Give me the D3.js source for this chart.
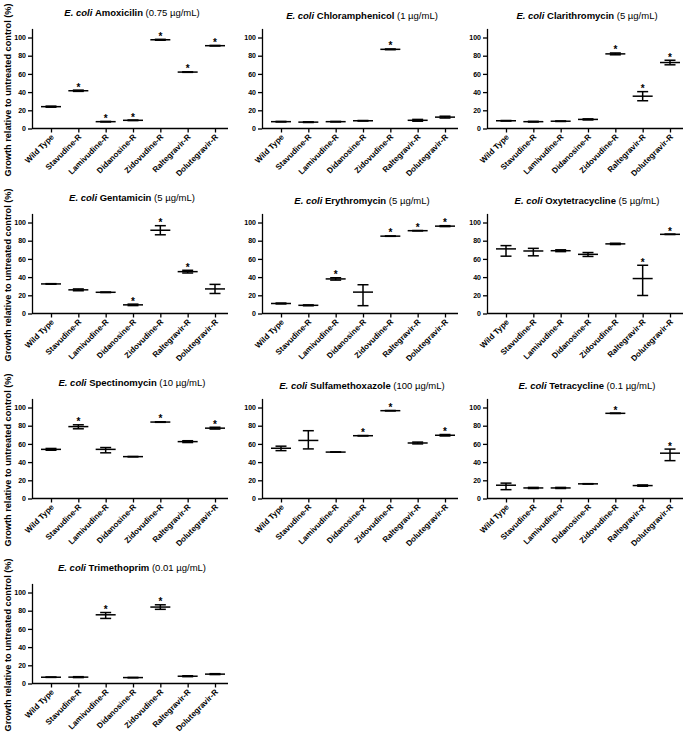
<!DOCTYPE html>
<html lang="en">
  <head>
    <meta charset="utf-8">
    <title>E. coli growth panels</title>
    <style>
      body { margin: 0; background: #fff; }
      svg { display: block; font-family: "Liberation Sans", Arial, sans-serif; }
    </style>
  </head>
  <body>
    <script src="https://cdn.jsdelivr.net/npm/d3@7"></script>
    <script>
      // strains on the x axis (same for every panel)
      const categories = ["Wild Type", "Stavudine-R", "Lamivudine-R", "Didanosine-R", "Zidovudine-R", "Raltegravir-R", "Dolutegravir-R"];
      const antibiotics = ["Amoxicilin", "Chloramphenicol", "Clarithromycin", "Gentamicin", "Erythromycin", "Oxytetracycline", "Spectinomycin", "Sulfamethoxazole", "Tetracycline", "Trimethoprim"];
      const doses = ["0.75", "1", "5", "5", "5", "5", "10", "100", "0.1", "0.01"];
      const yTicks = [0, 20, 40, 60, 80, 100];

      // mean growth (%) per panel, one row per antibiotic
      const means = [
        [24, 41.5, 7.5, 9, 97.5, 62, 91],
        [7.5, 7, 7.5, 8.5, 87, 9, 12.5],
        [8.5, 7.5, 8, 10, 82, 35.5, 72.5],
        [32.5, 26, 23.3, 9.5, 91.5, 46, 27],
        [11, 9, 38, 23.5, 85, 91, 96],
        [71, 68.7, 69, 65, 76.5, 38.4, 87],
        [54, 79, 54, 46, 84, 62.5, 77.3],
        [55.2, 63.8, 51, 69, 96.5, 61, 69.5],
        [14.6, 11.6, 11.6, 16.1, 93.6, 14.2, 49.8],
        [6.9, 7, 75.5, 6.5, 84, 8, 10.3]
      ];
      // lower end of error bar
      const lows = [
        [23.4, 40.8, 7.2, 8.7, 97, 61.7, 90.7],
        [7.2, 6.6, 7.2, 8.2, 86.6, 8, 11.5],
        [8.2, 7.1, 7.7, 9.4, 81, 30.5, 70],
        [32.2, 25, 23, 8.7, 86.5, 44.5, 22],
        [10.5, 8.5, 36.7, 8.6, 84.8, 90.8, 95.5],
        [63, 63.4, 68, 62.7, 75.8, 19.8, 86.8],
        [53, 76.6, 50.2, 45.8, 83.7, 61.5, 76.3],
        [52.6, 54.5, 50.8, 68.8, 96.3, 60, 68.7],
        [9.7, 11, 11, 15.9, 93.4, 13.5, 41.6],
        [6.7, 6.5, 71.5, 6.3, 81.5, 7.5, 9.8]
      ];
      // upper end of error bar
      const highs = [
        [24.6, 42.2, 7.8, 9.3, 98, 62.3, 91.3],
        [7.8, 7.4, 7.8, 8.8, 87.4, 10, 13.5],
        [8.8, 7.9, 8.3, 10.6, 83, 40.5, 75],
        [32.8, 27, 23.6, 10.3, 96.5, 47.5, 32],
        [11.5, 9.5, 39.3, 31.6, 85.2, 91.2, 96.5],
        [74.6, 71.6, 70, 67, 77.2, 53, 87.2],
        [55, 81, 56, 46.2, 84.3, 63.5, 78.3],
        [57.5, 74.5, 51.2, 69.2, 96.7, 62, 70.3],
        [16.9, 12.2, 12.2, 16.3, 93.8, 14.9, 54.3],
        [7.1, 7.5, 78, 6.7, 86.5, 8.5, 10.8]
      ];
      // significance asterisks (1 = *)
      const stars = [
        [0, 1, 1, 1, 1, 1, 1],
        [0, 0, 0, 0, 1, 0, 0],
        [0, 0, 0, 0, 1, 1, 1],
        [0, 0, 0, 1, 1, 1, 0],
        [0, 0, 1, 0, 1, 1, 1],
        [0, 0, 0, 0, 0, 1, 1],
        [0, 1, 0, 0, 1, 0, 1],
        [0, 0, 0, 1, 1, 0, 1],
        [0, 0, 0, 0, 1, 0, 1],
        [0, 0, 1, 0, 1, 0, 0]
      ];

      const width = 685, height = 735;
      const colX = [0, 230, 455];
      const rowY = [0, 185, 370, 555];
      const titleY = [16, 19, 19];
      const axisLeft = 32, axisRight = 228;

      const svg = d3.create("svg")
        .attr("width", width)
        .attr("height", height)
        .attr("viewBox", [0, 0, width, height]);

      const x = d3.scalePoint(categories, [51, 215]);
      const y = d3.scaleLinear([0, 110], [128.5, 28.4]);

      function drawPanel(p) {
        const col = p % 3, row = Math.floor(p / 3);
        const g = svg.append("g").attr("transform", `translate(${colX[col]},${rowY[row]})`);

        // title
        const t = g.append("text")
          .attr("x", (axisLeft + axisRight) / 2 + 2)
          .attr("y", titleY[col])
          .attr("text-anchor", "middle")
          .attr("font-size", 9.5);
        t.append("tspan").attr("font-weight", "bold").attr("font-style", "italic").text("E. coli ");
        t.append("tspan").attr("font-weight", "bold").text(antibiotics[p]);
        t.append("tspan").text(` (${doses[p]} \u00b5g/mL)`);

        // y axis
        g.append("g")
          .attr("transform", `translate(${axisLeft},0)`)
          .call(d3.axisLeft(y).tickValues(yTicks).tickSize(4).tickPadding(2).tickSizeOuter(0))
          .call(a => a.selectAll("path, line").attr("stroke-width", 1.3))
          .call(a => a.selectAll("text").attr("font-size", 7).attr("font-weight", "bold")
            .attr("font-family", "'Liberation Sans Narrow', 'Liberation Sans', Arial, sans-serif"));

        // x axis
        g.append("g")
          .attr("transform", `translate(0,${y(0)})`)
          .call(d3.axisBottom(x).tickSize(4).tickSizeOuter(0))
          .call(a => a.select(".domain").attr("d", `M${axisLeft},0H${axisRight}`))
          .call(a => a.selectAll("path, line").attr("stroke-width", 1.3))
          .call(a => a.selectAll("text")
            .attr("font-size", 8)
            .attr("font-weight", "bold")
            .attr("text-anchor", "end")
            .attr("dy", null)
            .attr("y", 0)
            .attr("transform", "translate(3,9) rotate(-45)"));

        if (col === 0) {
          g.append("text")
            .attr("transform", "translate(11,90) rotate(-90)")
            .attr("text-anchor", "middle")
            .attr("font-size", 9.2)
            .attr("font-weight", "bold")
            .text("Growth relative to untreated control (%)");
        }

        const idx = d3.range(categories.length);
        const bars = g.append("g").attr("stroke", "#000").attr("stroke-width", 1.5);
        bars.selectAll(".stem").data(idx).join("line")
          .attr("x1", i => x(categories[i])).attr("x2", i => x(categories[i]))
          .attr("y1", i => y(lows[p][i])).attr("y2", i => y(highs[p][i]));
        bars.selectAll(".capLo").data(idx).join("line")
          .attr("x1", i => x(categories[i]) - 5.5).attr("x2", i => x(categories[i]) + 5.5)
          .attr("y1", i => y(lows[p][i])).attr("y2", i => y(lows[p][i]));
        bars.selectAll(".capHi").data(idx).join("line")
          .attr("x1", i => x(categories[i]) - 5.5).attr("x2", i => x(categories[i]) + 5.5)
          .attr("y1", i => y(highs[p][i])).attr("y2", i => y(highs[p][i]));
        bars.selectAll(".mean").data(idx).join("line")
          .attr("x1", i => x(categories[i]) - 10).attr("x2", i => x(categories[i]) + 10)
          .attr("y1", i => y(means[p][i])).attr("y2", i => y(means[p][i]));

        g.append("g").selectAll("text").data(idx.filter(i => stars[p][i])).join("text")
          .attr("x", i => x(categories[i]))
          .attr("y", i => y(highs[p][i]) + 0.5)
          .attr("text-anchor", "middle")
          .attr("font-size", 10)
          .attr("font-weight", "bold")
          .text("*");
      }

      antibiotics.forEach((d, p) => drawPanel(p));
      d3.select("body").append(() => svg.node());
    </script>
  </body>
</html>
